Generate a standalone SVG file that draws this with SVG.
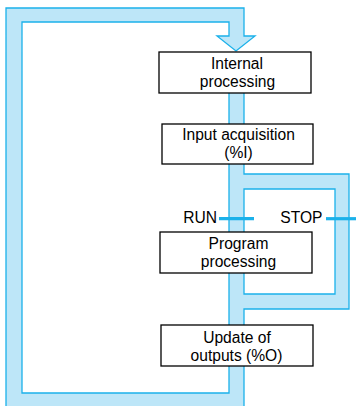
<svg xmlns="http://www.w3.org/2000/svg" width="356" height="406" viewBox="0 0 356 406">
<style>
.pipe{fill:#bde6f8;stroke:#1bb1ea;stroke-width:1.3;fill-rule:evenodd}
.box{fill:#fff;stroke:#000;stroke-width:1.3}
.t{font-family:"Liberation Sans",Arial,sans-serif;font-size:15.6px;fill:#000;text-anchor:middle}
.lbl{font-family:"Liberation Sans",Arial,sans-serif;font-size:15.6px;fill:#000;text-anchor:end}
.bar{stroke:#1bb1ea;stroke-width:3.2}
</style>
<g id="connectors">
<path class="pipe" d="M6,420 L6,8 L244,8 L244,36 L255,36 L236,51 L217,36 L229,36 L229,22 L22,22 L22,393 L229,393 L229,70 L244,70 L244,174 L349,174 L349,309 L244,309 L244,420 Z M244,189 L335,189 L335,294 L244,294 Z"/>
<line class="bar" x1="219" y1="218.7" x2="254" y2="218.7"/>
<line class="bar" x1="326" y1="218.7" x2="356" y2="218.7"/>
<text class="lbl" x="217" y="222.5">RUN</text>
<text class="lbl" x="322.5" y="222.5">STOP</text>
</g>
<g id="internal">
<rect class="box" x="159" y="52" width="152" height="41"/>
<text class="t" x="237" y="69">Internal</text>
<text class="t" x="237.5" y="87">processing</text>
</g>
<g id="input">
<rect class="box" x="162" y="124" width="151" height="40"/>
<text class="t" x="238.5" y="139.5">Input acquisition</text>
<text class="t" x="238.5" y="157.5">(%I)</text>
</g>
<g id="program">
<rect class="box" x="160" y="232" width="152" height="41"/>
<text class="t" x="238.5" y="248.5">Program</text>
<text class="t" x="238.5" y="266.5">processing</text>
</g>
<g id="update">
<rect class="box" x="161" y="325" width="152" height="41"/>
<text class="t" x="237" y="343">Update of</text>
<text class="t" x="236.5" y="361">outputs (%O)</text>
</g>
</svg>
